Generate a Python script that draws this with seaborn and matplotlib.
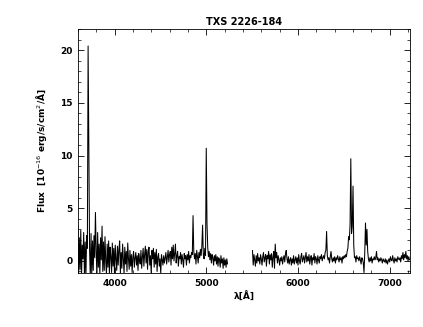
"""
Optical spectrum of TXS 2226-184, redrawn as a PGPLOT-style line plot.
"""
import matplotlib
matplotlib.use("Agg")
import matplotlib.pyplot as plt
import numpy as np
import pandas as pd
import seaborn as sns
from matplotlib.ticker import MultipleLocator

TITLE = "TXS 2226-184"

# blue arm: start wavelength and dispersion (Angstrom / pixel)
BLUE_CRVAL, BLUE_CDELT = 3600.0, 8.0
BLUE_FLUX = [
    3.4, -1.5, 2.2, -0.8, 2.9, -1.6, 1.5, 0.2, 2.7, -1.4,
    1.8, -1.6, 2.4, 1.2, 20.4, 10.2, 1.1, -1.6, 2.6, -1.3,
    1.9, -0.9, 2.4, 0.3, 4.6, 1.0, -1.5, 2.7, -0.6, 1.6,
    -1.4, 2.2, 0.1, 3.3, -1.0, 1.8, -0.9, 2.3, 0.0, -1.3,
    1.6, -0.6, 1.9, -1.2, 1.3, 0.4, -1.1, 1.7, -0.5, 1.2,
    -1.3, 1.5, 0.2, -0.9, 1.4, -0.4, 1.1, 1.9, -1.2, 0.8,
    -0.7, 1.6, 0.1, -1.2, 1.3, -0.3, 0.9, -1.0, 1.7, 0.2,
    -0.8, 1.0, -0.5, 0.6, -1.1, 0.4, 0.9, -0.6, 0.3, 0.8,
    -0.4, 0.5, -0.9, 0.7, 0.1, -0.3, 1.0, -0.7, 0.4, 1.2,
    -0.5, 0.6, 1.4, -0.2, 1.1, -0.8, 0.9, 1.3, -0.4, 0.5,
    -1.2, 1.0, 0.2, 1.2, -0.6, 0.8, -0.3, 1.1, -1.0, 0.4,
    0.7, -0.5, 0.2, -1.2, 0.6, 0.1, -0.4, 0.5, -0.2, 0.3,
    0.8, -0.3, 0.4, 1.0, -0.1, 0.6, 0.9, -0.4, 1.3, 0.2,
    1.5, 0.0, 0.7, 1.6, -0.2, 0.5, 0.9, -0.5, 0.4, 0.2,
    0.8, -0.3, 0.6, 0.1, -0.6, 0.7, 0.2, 0.5, -0.4, 0.6,
    0.1, 0.9, -0.2, 0.5, 0.3, 0.8, 0.6, 4.3, 0.9, 0.2,
    0.7, -0.3, 1.0, 0.4, -0.2, 0.8, 0.3, 1.1, 0.5, 1.4,
    3.4, 0.6, 0.2, 1.2, 0.5, 10.7, 3.6, 1.3, 0.4, 0.9,
    0.1, 0.7, -0.2, 0.6, 0.3, -0.4, 0.5, 0.0, 0.6, -0.3,
    0.4, -0.5, 0.3, 0.1, -0.6, 0.5, -0.2, 0.2, -0.7, 0.3,
    -0.4, 0.1, -0.6, 0.2, -0.3,
]

# red arm
RED_CRVAL, RED_CDELT = 5504.0, 8.0
RED_FLUX = [
    1.0, -0.4, 0.6, 0.1, -0.5, 0.5, -0.2, 0.7, 0.0, 0.3,
    -0.3, 0.6, 0.2, -0.4, 0.4, 0.8, -0.1, 0.3, 0.6, -0.5,
    0.5, 0.2, 0.9, -0.3, 0.6, 0.1, 0.7, -0.6, 0.4, 0.9,
    -0.7, 1.6, 0.3, 0.8, -0.2, 0.5, 0.1, -0.4, 0.3, 0.0,
    0.4, -0.3, 0.2, 0.5, -0.1, 0.7, 1.0, 0.2, -0.2, 0.4,
    -0.3, 0.1, 0.3, -0.4, 0.2, -0.2, 0.5, -0.3, 0.1, 0.4,
    -0.2, 0.3, -0.4, 0.6, 0.0, -0.3, 0.4, 0.7, -0.1, 0.2,
    0.5, -0.2, 0.3, 0.8, -0.1, 0.4, 0.0, 0.6, -0.3, 0.2,
    0.5, -0.4, 0.3, 0.1, 0.7, -0.2, 0.4, 0.2, -0.3, 0.5,
    0.1, -0.2, 0.4, 0.2, 0.6, 0.0, 0.3, 0.5, 0.2, 0.8,
    1.0, 2.8, 0.5, 0.1, 0.3, -0.2, 0.4, 0.9, 0.2, -0.1,
    0.3, 0.0, 0.4, -0.2, 0.3, 0.1, 0.5, 0.2, -0.1, 0.4,
    0.1, 0.3, -0.2, 0.4, 0.2, 0.5, 0.3, 0.6, 0.4, 0.9,
    1.2, 2.3, 2.0, 3.5, 9.7, 2.6, 3.3, 7.1, 1.5, 0.3,
    0.4, -0.1, 0.5, 0.2, 0.3, 0.0, 0.4, 0.1, -0.3, 0.3,
    0.2, -0.2, -1.1, 0.8, 3.6, 1.5, 3.0, 0.9, 0.2, -0.1,
    0.3, 0.0, 0.4, -0.2, 0.2, 0.1, 0.4, 0.1, 0.3, 0.9,
    0.1, 0.3, -0.1, 0.2, 0.0, 0.3, 0.1, -0.2, 0.2, 0.0,
    -0.1, 0.2, -0.2, 0.1, -0.3, 0.0, 0.2, -0.1, 0.4, 0.1,
    0.0, 0.5, 0.1, -0.2, 0.3, 0.0, 0.2, -0.1, 0.4, 0.2,
    0.1, 0.3, -0.1, 0.5, 0.2, 0.8, 0.1, 0.6, 0.3, 0.9,
    0.2, 0.5, 0.0, 0.4, 0.1,
]

XLIM = (3600, 7220)
YLIM = (-1.15, 22.0)


def arm_frame(crval, cdelt, flux):
    wave = crval + cdelt * np.arange(len(flux))
    return pd.DataFrame({"wave": wave, "flux": flux})


def main():
    sns.set_theme(style="ticks")
    plt.rcParams.update({
        "font.family": ["DejaVu Sans"],
        "xtick.direction": "in",
        "ytick.direction": "in",
        "xtick.top": True,
        "ytick.right": True,
        "axes.linewidth": 0.6,
        "axes.edgecolor": "black",
        "text.color": "black",
        "axes.labelcolor": "black",
        "xtick.color": "black",
        "ytick.color": "black",
    })

    fig = plt.figure(figsize=(4.23, 3.27), dpi=100)
    ax = fig.add_axes([0.184, 0.165, 0.785, 0.746])

    for crval, cdelt, flux in ((BLUE_CRVAL, BLUE_CDELT, BLUE_FLUX),
                               (RED_CRVAL, RED_CDELT, RED_FLUX)):
        df = arm_frame(crval, cdelt, flux)
        sns.lineplot(data=df, x="wave", y="flux", estimator=None, sort=False,
                     color="black", linewidth=0.75, ax=ax)

    ax.set_xlim(*XLIM)
    ax.set_ylim(*YLIM)
    ax.xaxis.set_major_locator(MultipleLocator(1000))
    ax.xaxis.set_minor_locator(MultipleLocator(200))
    ax.yaxis.set_major_locator(MultipleLocator(5))
    ax.yaxis.set_minor_locator(MultipleLocator(1))
    ax.tick_params(which="major", length=4, width=0.6, labelsize=6.5, pad=4)
    ax.tick_params(which="minor", length=2, width=0.5)
    for lab in ax.get_xticklabels() + ax.get_yticklabels():
        lab.set_fontweight("bold")

    ax.set_xlabel("λ[Å]", fontsize=6.5, fontweight="bold", labelpad=3)
    ax.set_ylabel("Flux  [10$^{-16}$ erg/s/cm$^2$/Å]", fontsize=6.5,
                  fontweight="bold", labelpad=8)
    ax.set_title(TITLE, fontsize=7, fontweight="bold", pad=3)

    fig.savefig("out.png", dpi=100)
    plt.close(fig)


if __name__ == "__main__":
    main()
